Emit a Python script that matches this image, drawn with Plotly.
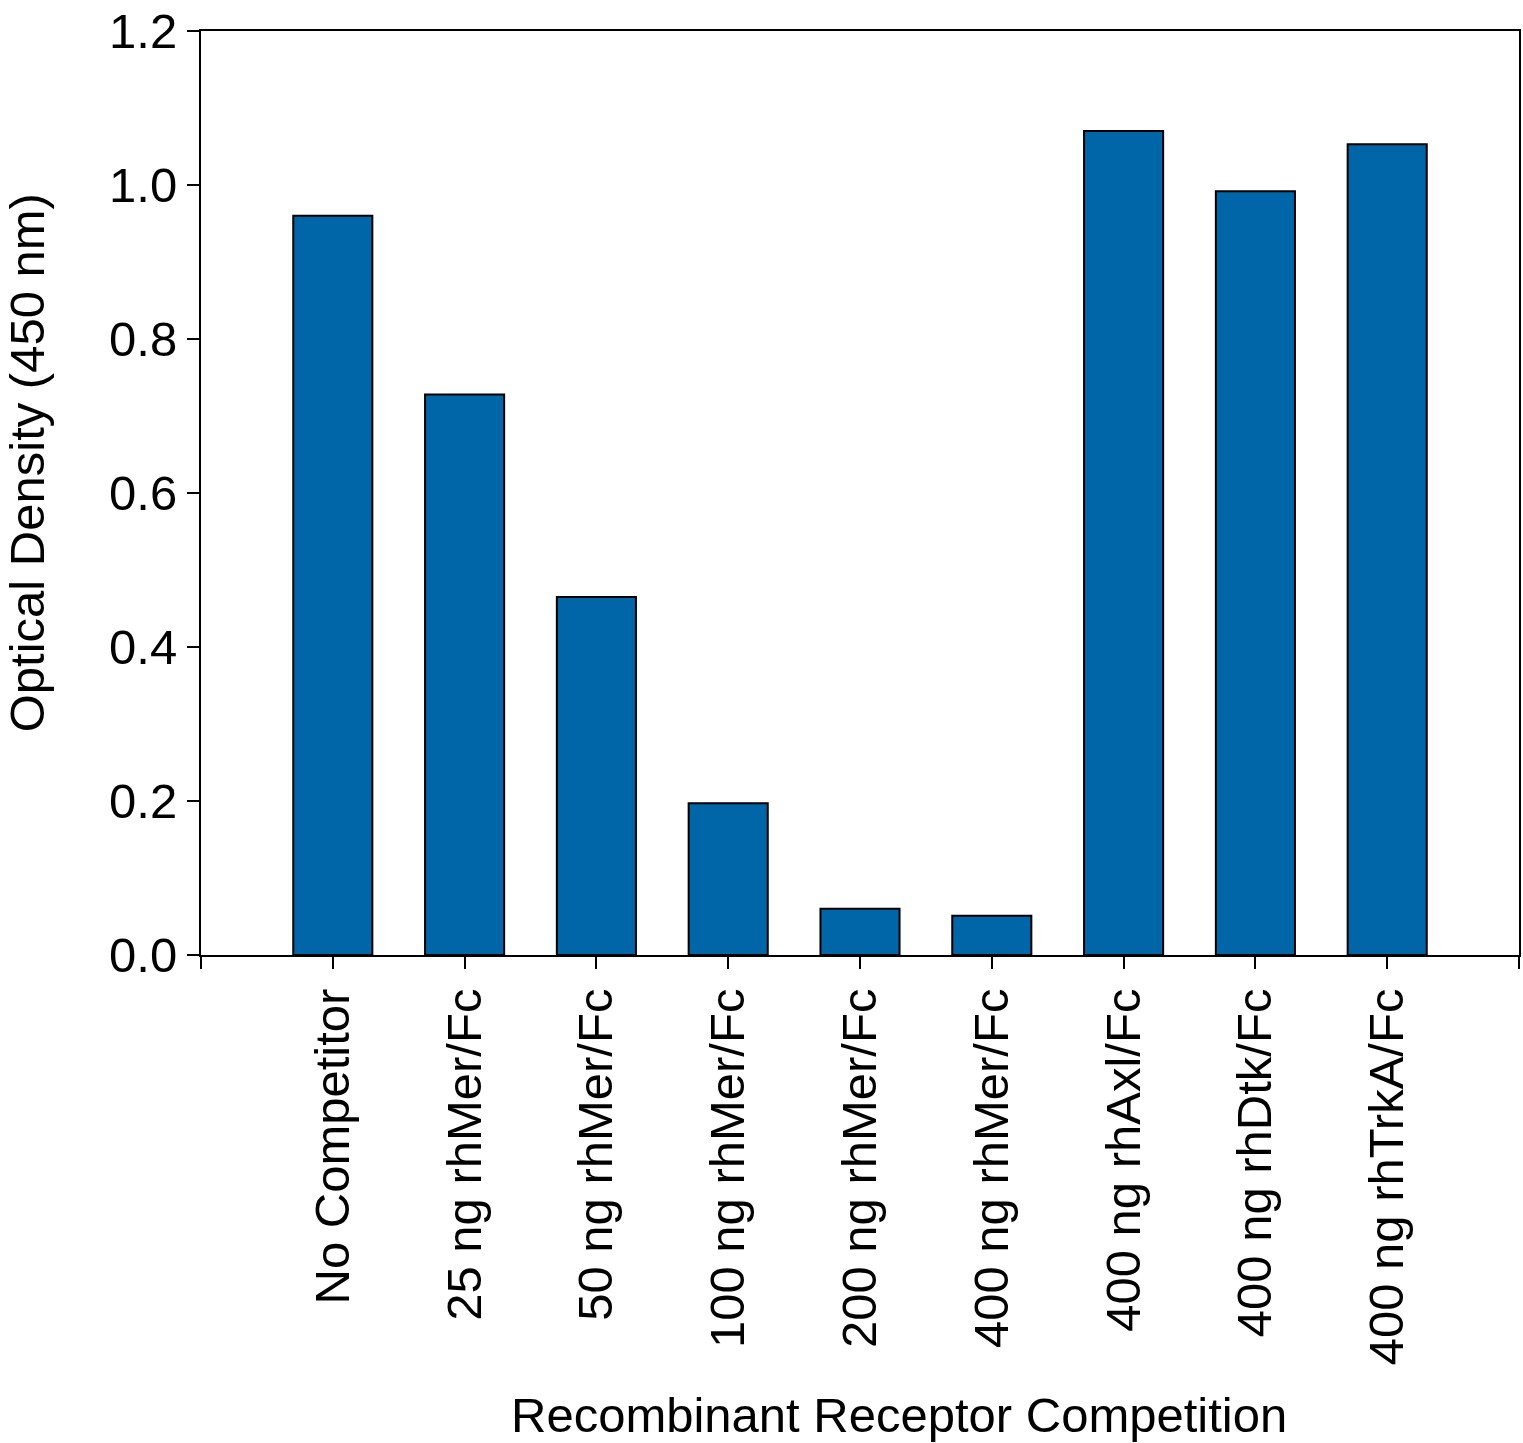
import plotly.graph_objects as go

categories = ["No Competitor", "25 ng rhMer/Fc", "50 ng rhMer/Fc", "100 ng rhMer/Fc",
              "200 ng rhMer/Fc", "400 ng rhMer/Fc", "400 ng rhAxl/Fc",
              "400 ng rhDtk/Fc", "400 ng rhTrkA/Fc"]
optical_density = [0.960, 0.728, 0.465, 0.197, 0.060, 0.051, 1.070, 0.992, 1.053]
y_ticks = [0.0, 0.2, 0.4, 0.6, 0.8, 1.0, 1.2]

FONT = "Liberation Sans, Arial, Helvetica, sans-serif"
positions = list(range(len(categories)))

fig = go.Figure()
fig.add_trace(go.Bar(
    x=positions, y=optical_density, width=0.6,
    marker=dict(color="#0066A8", line=dict(color="black", width=2)),
))

fig.update_layout(
    width=1523, height=1443,
    margin=dict(l=201, r=2, t=31, b=488),
    plot_bgcolor="white", paper_bgcolor="white",
    showlegend=False,
    font=dict(family=FONT, size=49, color="black"),
    xaxis=dict(
        range=[-1, 9],
        tickvals=[-1] + positions + [9],
        ticktext=[""] + categories + [""],
        tickangle=-90,
        ticks="outside", ticklen=12, tickwidth=2, tickcolor="black",
        showline=True, linecolor="black", linewidth=2, mirror=True,
        showgrid=False, zeroline=False,
        tickfont=dict(family=FONT, size=49),
    ),
    yaxis=dict(
        range=[0, 1.2],
        tickvals=y_ticks,
        tickformat=".1f",
        ticks="outside", ticklen=12, tickwidth=2, tickcolor="black",
        showline=True, linecolor="black", linewidth=2, mirror=True,
        showgrid=False, zeroline=False,
        tickfont=dict(family=FONT, size=49),
    ),
    annotations=[
        dict(text="Recombinant Receptor Competition", xref="paper", yref="paper",
             x=(900 - 201) / 1320, y=-(1415 - 955) / 924, xanchor="center", yanchor="middle",
             showarrow=False, font=dict(family=FONT, size=49)),
        dict(text="Optical Density (450 nm)", xref="paper", yref="paper",
             x=-(201 - 27) / 1320, y=(955 - 463) / 924, xanchor="center", yanchor="middle",
             textangle=-90, showarrow=False, font=dict(family=FONT, size=49)),
    ],
)

fig.write_html("out.html")
